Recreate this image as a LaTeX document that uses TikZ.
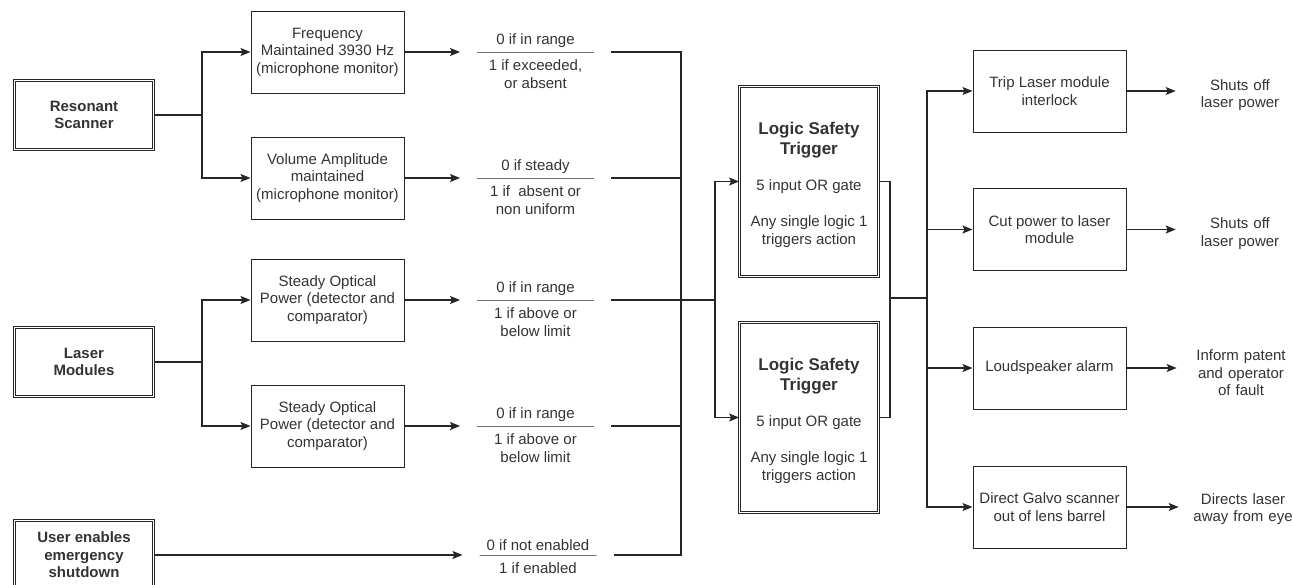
\documentclass[tikz,border=0pt]{standalone}
\usepackage{fontspec}
\setmainfont{Liberation Sans}
\usetikzlibrary{arrows.meta,positioning}
\definecolor{lineC}{RGB}{38,38,38}
\definecolor{txtC}{RGB}{51,51,51}
\tikzset{
  base/.style={font=\fontsize{15}{17.5}\selectfont, text=txtC, align=center},
  dblbox/.style={draw=lineC, line width=0.9pt, double=white, double distance=1.2pt},
  srcbox/.style={base, dblbox, minimum width=139pt, minimum height=69pt,
    font=\fontsize{15}{17.5}\selectfont\bfseries},
  chkbox/.style={base, draw=lineC, line width=1pt, minimum width=153pt, minimum height=82pt, inner sep=2pt},
  logicbox/.style={base, dblbox, minimum width=139pt, minimum height=190pt},
  condln/.style={draw=lineC, line width=1pt, minimum width=117pt, minimum height=0pt, inner sep=0pt, outer xsep=17pt},
  outtxt/.style={base, text width=112pt, outer xsep=5pt},
  wire/.style={draw=lineC, line width=1.1pt},
  arrln/.style={wire, -{Stealth[length=10pt,width=8pt,inset=2pt]}},
}
\newcommand{\lsthead}{{\fontsize{17}{20}\selectfont\bfseries\rule{0pt}{19pt}Logic Safety}\\[2pt]
  {\fontsize{17}{20}\selectfont\bfseries Trigger}}
\begin{document}
\begin{tikzpicture}[x=1pt,y=-1pt]
  \useasboundingbox (0,0) rectangle (1293,584);
  \clip (0,0) rectangle (1293,584);
  % --- left: sources ---
  \node[srcbox] (res) at (84,115) {Resonant\\Scanner};
  \node[srcbox] (laser) at (84,362) {Laser\\Modules};
  \node[srcbox] (user) at (84,555) {User enables\\emergency\\shutdown};
  % --- monitors ---
  \node[chkbox] (freq) at (327.5,52) {Frequency\\Maintained 3930 Hz\\(microphone monitor)};
  \node[chkbox] (vol) at (327.5,178) {Volume Amplitude\\maintained\\(microphone monitor)};
  \node[chkbox] (st1) at (327.5,300) {Steady Optical\\Power (detector and\\comparator)};
  \node[chkbox] (st2) at (327.5,426) {Steady Optical\\Power (detector and\\comparator)};
  \coordinate (rsp) at (202,115);
  \coordinate (lsp) at (202,362);
  \draw[wire] (res) -- (rsp);
  \draw[arrln] (rsp) |- (freq);
  \draw[arrln] (rsp) |- (vol);
  \draw[wire] (laser) -- (lsp);
  \draw[arrln] (lsp) |- (st1);
  \draw[arrln] (lsp) |- (st2);
  % --- logic levels ---
  \node[condln] (c1) at (535.5,52) {};
  \node[base, above=0pt of c1] (c1t) {0 if in range};
  \node[base, below=4pt of c1] (c1b) {1 if exceeded,\\or absent};
  \node[condln] (c2) at (535.5,178) {};
  \node[base, above=0pt of c2] (c2t) {0 if steady};
  \node[base, below=4pt of c2] (c2b) {1 if\ \ absent or\\non uniform};
  \node[condln] (c3) at (535.5,300) {};
  \node[base, above=0pt of c3] (c3t) {0 if in range};
  \node[base, below=4pt of c3] (c3b) {1 if above or\\below limit};
  \node[condln] (c4) at (535.5,426) {};
  \node[base, above=0pt of c4] (c4t) {0 if in range};
  \node[base, below=4pt of c4] (c4b) {1 if above or\\below limit};
  \node[condln] (c5) at (538,555) {};
  \node[base, above=0pt of c5] (c5t) {0 if not enabled};
  \node[base, below=4pt of c5] (c5b) {1 if enabled};
  \draw[arrln] (freq) -- (c1);
  \draw[arrln] (vol) -- (c2);
  \draw[arrln] (st1) -- (c3);
  \draw[arrln] (st2) -- (c4);
  \draw[arrln] (user) -- (c5);
  % --- bus into the two triggers ---
  \coordinate (jn) at (681,300);
  \coordinate (sp) at (715,300);
  \draw[wire] (c1.east) -| (jn);
  \draw[wire] (c2.east) -| (jn);
  \draw[wire] (c3.east) -- (jn);
  \draw[wire] (c4.east) -| (jn);
  \draw[wire] (c5.east) -| (jn);
  \draw[wire] (jn) -- (sp);
  \node[logicbox] (lst1) at (809,181.5) {\lsthead\\[19pt] 5 input OR gate\\[18.5pt] Any single logic 1\\triggers action};
  \node[logicbox] (lst2) at (809,417.5) {\lsthead\\[19pt] 5 input OR gate\\[18.5pt] Any single logic 1\\triggers action};
  \draw[arrln] (sp) |- (lst1);
  \draw[arrln] (sp) |- (lst2);
  % --- right: actions ---
  \coordinate (ob) at (890,298);
  \coordinate (rb) at (927,298);
  \draw[wire] (lst1.east) -| (ob) |- (lst2.east);
  \draw[wire] (ob) -- (rb);
  \node[chkbox] (trip) at (1049.5,91) {Trip Laser module\\interlock};
  \node[chkbox] (cut) at (1049.5,229.5) {Cut power to laser\\module};
  \node[chkbox] (loud) at (1049.5,368) {Loudspeaker alarm};
  \node[chkbox] (galvo) at (1049.5,507) {Direct Galvo scanner\\out of lens barrel};
  \draw[arrln] (rb) |- (trip);
  \draw[arrln] (rb) |- (cut);
  \draw[arrln] (rb) |- (loud);
  \draw[arrln] (rb) |- (galvo);
  \node[outtxt] (o1) at (1240,95) {Shuts off\\laser power};
  \node[outtxt] (o2) at (1240,233.5) {Shuts off\\laser power};
  \node[outtxt] (o3) at (1241,373) {Inform patent\\and operator\\of fault};
  \node[outtxt] (o4) at (1243,509) {Directs laser\\away from eye};
  \draw[arrln] (trip.east) -- (trip.east -| o1.west);
  \draw[arrln] (cut.east) -- (cut.east -| o2.west);
  \draw[arrln] (loud.east) -- (loud.east -| o3.west);
  \draw[arrln] (galvo.east) -- (galvo.east -| o4.west);
\end{tikzpicture}
\end{document}
